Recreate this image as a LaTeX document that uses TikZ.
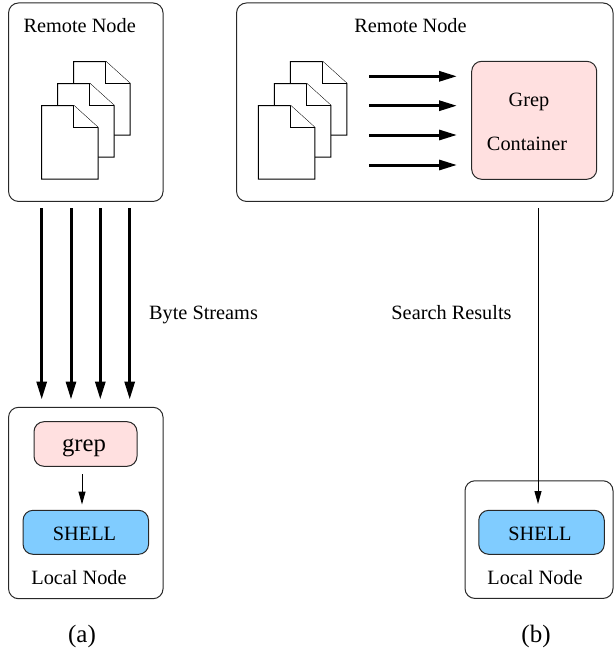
\documentclass[tikz,border=0pt]{standalone}
\usepackage{fontspec}
\setmainfont{Liberation Serif}
\usetikzlibrary{arrows.meta}
\definecolor{grepred}{RGB}{255,224,224}
\definecolor{shellblue}{RGB}{128,204,255}
\definecolor{boxline}{RGB}{40,40,40}
\tikzset{
  every node/.style={font=\fontsize{20.3}{24}\selectfont,inner sep=0pt},
  hostbox/.style={draw=boxline,line width=1pt,rounded corners=10pt,inner sep=0pt},
  grepbox/.style={hostbox,fill=grepred},
  shellbox/.style={hostbox,fill=shellblue},
  sheet/.style={draw=black,fill=white,line width=1pt,line join=miter},
  bytes/.style={line width=3pt,-{Triangle[length=18pt,width=10pt]}},
  pipe/.style={line width=1pt,-{Triangle[length=13pt,width=7pt]}}
}
\newcommand{\drawsheet}[2]{%
  \draw[sheet] (#1,#2) -- ++(32.2,0) -- ++(24.3,22) -- ++(0,51.6) -- ++(-56.5,0) -- cycle;
  \draw[sheet] (#1+32.2,#2) -- ++(0,22) -- ++(24.3,0);
}
\begin{document}
\begin{tikzpicture}[x=1pt,y=-1pt]
      \useasboundingbox (0,0) rectangle (614,648);
      % hosts
      \node[hostbox,minimum width=154.5pt,minimum height=198.5pt] (RemoteA) at (85.8,102.2) {};
      \node[hostbox,minimum width=376.5pt,minimum height=198.5pt] (RemoteB) at (424.8,102.2) {};
      \node[hostbox,minimum width=154.5pt,minimum height=191.4pt] (LocalA) at (85.8,503) {};
      \node[hostbox,minimum width=148pt,minimum height=117.7pt] (LocalB) at (539,539.6) {};
      \node[grepbox,minimum width=125pt,minimum height=118pt] (Container) at (534.2,120.3) {};
      \node[grepbox,minimum width=103pt,minimum height=44.6pt] (GrepA) at (85.5,444) {};
      \node[shellbox,minimum width=125.5pt,minimum height=44pt] (ShellA) at (85.8,532.3) {};
      \node[shellbox,minimum width=125.5pt,minimum height=44pt] (ShellB) at (541.5,532.3) {};
      % documents
      \drawsheet{73.6}{61.5}
      \drawsheet{57.6}{83.5}
      \drawsheet{41.6}{105.6}
      \drawsheet{290.4}{61.5}
      \drawsheet{274.4}{83.5}
      \drawsheet{258.4}{105.6}
      % labels
      \node[anchor=base] (RemoteAText) at (79.7,32) {Remote Node};
      \node[anchor=base] (RemoteBText) at (410.5,32) {Remote Node};
      \node[anchor=base] (GrepText) at (529,106) {Grep};
      \node[anchor=base] (ContainerText) at (527,150) {Container};
      \node[anchor=base] (BytesText) at (203.5,319) {Byte Streams};
      \node[anchor=base] (ResultsText) at (451.5,319) {Search Results};
      \node[anchor=base,font=\fontsize{24.7}{28}\selectfont] (GrepAText) at (84,451.7) {grep};
      \node[anchor=base] (ShellAText) at (84.5,540) {SHELL};
      \node[anchor=base] (ShellBText) at (540,540) {SHELL};
      \node[anchor=base] (LocalAText) at (79,584) {Local Node};
      \node[anchor=base] (LocalBText) at (535,584) {Local Node};
      \node[anchor=base,font=\fontsize{25}{28}\selectfont] (CaptionA) at (82,642) {(a)};
      \node[anchor=base,font=\fontsize{25}{28}\selectfont] (CaptionB) at (536,642) {(b)};
      % free ends of the connectors
      \coordinate (StreamA) at (41.7,208);
      \coordinate (StreamB) at (71,208);
      \coordinate (StreamC) at (100.3,208);
      \coordinate (StreamD) at (129.7,208);
      \coordinate (StreamAEnd) at (41.7,399.5);
      \coordinate (StreamBEnd) at (71,399.5);
      \coordinate (StreamCEnd) at (100.3,399.5);
      \coordinate (StreamDEnd) at (129.7,399.5);
      \coordinate (ReadA) at (369,76.3);
      \coordinate (ReadB) at (369,105.7);
      \coordinate (ReadC) at (369,135);
      \coordinate (ReadD) at (369,165);
      \coordinate (ReadAEnd) at (457,76.3);
      \coordinate (ReadBEnd) at (457,105.7);
      \coordinate (ReadCEnd) at (457,135);
      \coordinate (ReadDEnd) at (457,165);
      \coordinate (PipeStart) at (82,474);
      \coordinate (PipeEnd) at (82,504.5);
      \coordinate (ResultStart) at (538,208);
      \coordinate (ResultEnd) at (538,504);
      % connectors
      \draw[bytes] (StreamA) -- (StreamAEnd);
      \draw[bytes] (StreamB) -- (StreamBEnd);
      \draw[bytes] (StreamC) -- (StreamCEnd);
      \draw[bytes] (StreamD) -- (StreamDEnd);
      \draw[bytes] (ReadA) -- (ReadAEnd);
      \draw[bytes] (ReadB) -- (ReadBEnd);
      \draw[bytes] (ReadC) -- (ReadCEnd);
      \draw[bytes] (ReadD) -- (ReadDEnd);
      \draw[pipe] (PipeStart) -- (PipeEnd);
      \draw[pipe] (ResultStart) -- (ResultEnd);
    \end{tikzpicture}
\end{document}
